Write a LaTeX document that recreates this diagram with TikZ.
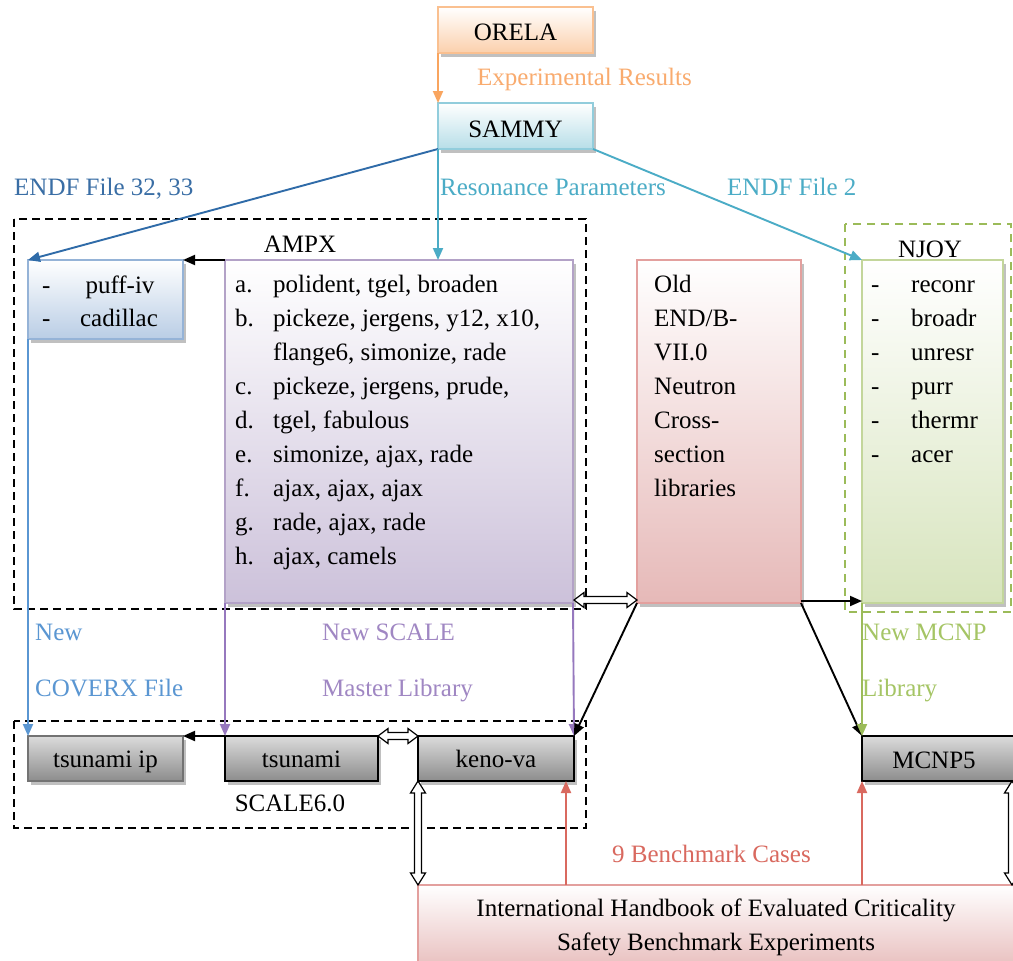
\documentclass[tikz,border=0pt]{standalone}
\usepackage{fontspec}
\setmainfont{Liberation Serif}
\usetikzlibrary{arrows.meta,shadows,calc}
\definecolor{orL}{HTML}{F9A55F}
\definecolor{orT}{HTML}{F9AB6E}
\definecolor{orF}{HTML}{FBD0AC}
\definecolor{orB}{HTML}{FAC090}
\definecolor{cyF}{HTML}{B7DEE8}
\definecolor{cyB}{HTML}{92CDDC}
\definecolor{cyL}{HTML}{4BACC6}
\definecolor{dbL}{HTML}{2F6BA8}
\definecolor{dbT}{HTML}{3A6EA5}
\definecolor{bF}{HTML}{B9CDE5}
\definecolor{bB}{HTML}{95B3D7}
\definecolor{mbL}{HTML}{5A96D2}
\definecolor{pF}{HTML}{CCC1DA}
\definecolor{pB}{HTML}{B3A2C7}
\definecolor{pL}{HTML}{9678BE}
\definecolor{pT}{HTML}{A087C3}
\definecolor{rF}{HTML}{E6B9B8}
\definecolor{rB}{HTML}{E3A09E}
\definecolor{rL}{HTML}{D9695F}
\definecolor{gF}{HTML}{D7E4BD}
\definecolor{gB}{HTML}{C3D69B}
\definecolor{gL}{HTML}{9BBB59}
\definecolor{gT}{HTML}{A5C565}
\newcommand\hollowH[2]{\draw[hollow] let \p1=#1, \p2=#2 in
  (\x1,\y1) -- (\x1+10pt,\y1+7.5pt) -- (\x1+10pt,\y1+3.5pt) -- (\x2-10pt,\y1+3.5pt) -- (\x2-10pt,\y1+7.5pt)
  -- (\x2,\y1) -- (\x2-10pt,\y1-7.5pt) -- (\x2-10pt,\y1-3.5pt) -- (\x1+10pt,\y1-3.5pt) -- (\x1+10pt,\y1-7.5pt) -- cycle;}
\newcommand\hollowV[2]{\draw[hollow] let \p1=#1, \p2=#2 in
  (\x1,\y1) -- (\x1+7.5pt,\y1-12pt) -- (\x1+3.5pt,\y1-12pt) -- (\x1+3.5pt,\y2+12pt) -- (\x1+7.5pt,\y2+12pt)
  -- (\x1,\y2) -- (\x1-7.5pt,\y2+12pt) -- (\x1-3.5pt,\y2+12pt) -- (\x1-3.5pt,\y1-12pt) -- (\x1-7.5pt,\y1-12pt) -- cycle;}
\begin{document}
\begin{tikzpicture}[x=1pt,y=-1pt,font=\fontsize{25}{34}\selectfont,
  box/.style={draw, line width=1.6pt, inner sep=0pt, outer sep=0pt,
    drop shadow={shadow xshift=2.5pt,shadow yshift=-3.5pt,fill=black!35,opacity=0.7}},
  txt/.style={inner sep=0pt, anchor=base west},
  ctxt/.style={inner sep=0pt, anchor=base},
  arr/.style={line width=1.9pt,-{Triangle[length=12pt,width=10pt]}},
  dbox/.style={draw, dash pattern=on 8pt off 5pt, line width=2.2pt},
  hollow/.style={draw=black, fill=white, line width=1.2pt, line join=miter},
  graybox/.style={box, top color=black!14, middle color=white, bottom color=black!45}]
\useasboundingbox (0,0) rectangle (1013,961);
\clip (0,0) rectangle (1013,961);
\fill[white] (0,0) rectangle (1013,961);

% dashed groups
\draw[dbox] (14,219) rectangle (586,609);
\draw[dbox] (14,721) rectangle (586,828);
\draw[dbox, draw=gL, dash pattern=on 8pt off 6pt] (845,224) rectangle (1011,612);

% boxes
\node[box, draw=orB, top color=white, bottom color=orF, minimum width=155pt, minimum height=46pt] (orela) at (515.5,30) {};
\node[box, draw=cyB, top color=white, bottom color=cyF, minimum width=155pt, minimum height=46pt] (sammy) at (515.5,126) {};
\node[box, draw=bB, top color=white, bottom color=bF, minimum width=155pt, minimum height=79pt] (puff) at (105.5,299.5) {};
\node[box, draw=pB, top color=white, bottom color=pF, minimum width=348pt, minimum height=343pt] (ampx) at (399,431.5) {};
\node[box, draw=rB, top color=white, bottom color=rF, minimum width=164pt, minimum height=343pt] (old) at (719,431.5) {};
\node[box, draw=gB, top color=white, bottom color=gF, minimum width=141pt, minimum height=343pt] (njoy) at (932.5,431.5) {};
\node[graybox, draw=black!55, minimum width=155pt, minimum height=45pt] (tsip) at (105.5,758.5) {};
\node[graybox, draw=black, minimum width=153pt, minimum height=45pt] (tsu) at (301.5,758.5) {};
\node[graybox, draw=black, minimum width=156pt, minimum height=45pt] (keno) at (496,758.5) {};
\node[graybox, draw=black, minimum width=155pt, minimum height=45pt] (mcnp) at (939.5,758.5) {};
\node[box, draw=rB, top color=white, bottom color=rF, minimum width=597pt, minimum height=90pt] (hb) at (716.5,930) {};

% box texts
\node[ctxt] (torela) at (515.5,41) {ORELA};
\node[ctxt] (tsammy) at (515.5,137) {SAMMY};
\node[ctxt] (tampx) at (300,252) {AMPX};
\node[ctxt] (tnjoy) at (930,257) {NJOY};
\node[txt] (pd1) at (42,293) {-};
\node[ctxt] (pt1) at (120,293) {puff-iv};
\node[txt] (pd2) at (42,326) {-};
\node[ctxt] (pt2) at (119,326) {cadillac};
\foreach \l/\t [count=\i from 0] in {a./{polident, tgel, broaden}, b./{pickeze, jergens, y12, x10,}, /{flange6, simonize, rade}, c./{pickeze, jergens, prude,}, d./{tgel, fabulous}, e./{simonize, ajax, rade}, f./{ajax, ajax, ajax}, g./{rade, ajax, rade}, h./{ajax, camels}}{
  \node[txt] (al\i) at (235,{292+34*\i}) {\l};
  \node[txt] (at\i) at (273,{292+34*\i}) {\t};
}
\foreach \t [count=\i from 0] in {Old, END/B-, VII.0, Neutron, Cross-, section, libraries}{
  \node[txt] (ot\i) at (654,{292+34*\i}) {\t};
}
\foreach \t [count=\i from 0] in {reconr, broadr, unresr, purr, thermr, acer}{
  \node[txt] (nd\i) at (871,{292+34*\i}) {-};
  \node[txt] (nt\i) at (911,{292+34*\i}) {\t};
}
\node[ctxt] (ttsip) at (105.5,767) {tsunami ip};
\node[ctxt] (ttsu) at (301.5,767) {tsunami};
\node[ctxt] (tkeno) at (496,767) {keno-va};
\node[ctxt] (tmcnp) at (934,768) {MCNP5};
\node[ctxt] (tscale) at (290,811) {SCALE6.0};
\node[ctxt] (thb1) at (716,916) {International Handbook of Evaluated Criticality};
\node[ctxt] (thb2) at (716,950) {Safety Benchmark Experiments};

% connector labels
\node[txt, text=orT] (lexp) at (477,85) {Experimental Results};
\node[txt, text=dbT] (lendf1) at (14,195) {ENDF File 32, 33};
\node[txt, text=cyL] (lres) at (440,195) {Resonance Parameters};
\node[txt, text=cyL] (lendf2) at (727,195) {ENDF File 2};
\node[txt, text=mbL] (lnew1) at (35,640) {New};
\node[txt, text=mbL] (lcov) at (35,696) {COVERX File};
\node[txt, text=pT] (lnew2) at (322,640) {New SCALE};
\node[txt, text=pT] (lmast) at (322,696) {Master Library};
\node[txt, text=gT] (lnew3) at (862,640) {New MCNP};
\node[txt, text=gT] (llib) at (862,696) {Library};
\node[txt, text=rL] (lbench) at (612,862) {9 Benchmark Cases};

% connectors
\draw[arr, orL] (orela.south west) -- (sammy.north west);
\draw[arr, dbL] (sammy.south west) -- (puff.north west);
\draw[arr, cyL] (sammy.south west) -- (sammy.south west |- ampx.north);
\draw[arr, cyL] (sammy.south east) -- (njoy.north west);
\draw[arr, black] (ampx.north west) -- (puff.north east);
\draw[arr, mbL] (puff.south west) -- (tsip.north west);
\draw[arr, pL] (ampx.south west) -- (tsu.north west);
\draw[arr, pL] (ampx.south east) -- (keno.north east);
\draw[arr, black] (old.south west) -- (keno.north east);
\draw[arr, black] (old.south east) -- (mcnp.north west);
\coordinate (h1) at ($(old.south east)+(0,-2)$);
\draw[arr, black] (h1) -- (h1 -| njoy.west);
\draw[arr, gL] (njoy.south west) -- (mcnp.north west);
\draw[arr, black] (tsu.north west) -- (tsip.north east);
\coordinate (k1) at ($(keno.south east)+(-8,0)$);
\draw[arr, rL] (k1 |- hb.north) -- (k1);
\draw[arr, rL] (mcnp.south west |- hb.north) -- (mcnp.south west);

% hollow double arrows
\hollowH{($(ampx.south east)+(1,-3)$)}{($(old.south west)+(0,-3)$)}
\hollowH{(tsu.north east)}{(keno.north west)}
\hollowV{(keno.south west)}{(hb.north west)}
\hollowV{($(mcnp.south west)+(150,0)$)}{(hb.north)}
\end{tikzpicture}
\end{document}
